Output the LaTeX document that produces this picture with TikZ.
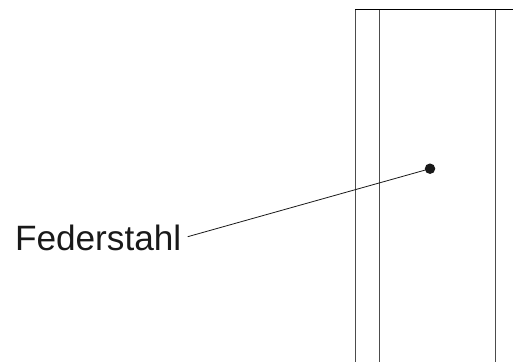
\documentclass[tikz,border=0pt]{standalone}
\usepackage{fontspec}
\setmainfont{Liberation Sans}
\tikzset{
  wall/.style={draw=black!70,line width=1.2pt},
  topedge/.style={draw=black,line width=1pt},
  leader/.style={draw=black!90,line width=0.8pt},
  pin/.style={circle,fill=black!90,draw=none,inner sep=0pt,minimum size=10.5pt},
  callout/.style={inner sep=0pt,outer sep=0pt,anchor=base west,text=black!90,font=\fontsize{35.2}{40}\selectfont}
}
\begin{document}
\begin{tikzpicture}[x=1pt,y=-1pt]
\useasboundingbox (0,0) rectangle (513,362);
\coordinate (tl) at (355.2,9);
\coordinate (tr) at (513,9);
\coordinate (bl) at (355.2,362);
\coordinate (ia) at (379.2,9);
\coordinate (ib) at (379.2,362);
\coordinate (ra) at (495.2,9);
\coordinate (rb) at (495.2,362);
\draw[wall] (tl) -- (bl);
\draw[wall] (ia) -- (ib);
\draw[wall] (ra) -- (rb);
\draw[topedge] (tl) -- (tr);
\node[callout] (label) at (15,250.7) {Federstahl};
\node[pin] (dot) at (430,168.7) {};
\coordinate (start) at (187.7,236.7);
\draw[leader] (start) -- (dot.center);
\end{tikzpicture}
\end{document}
